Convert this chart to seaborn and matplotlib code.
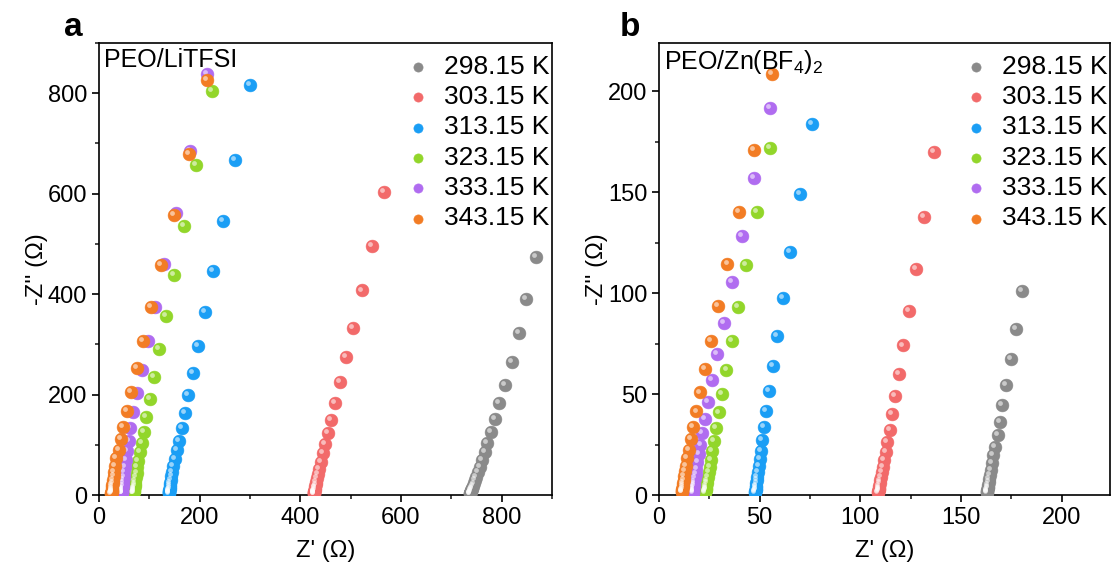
import numpy as np
import pandas as pd
import matplotlib
matplotlib.use("Agg")
import matplotlib.pyplot as plt
import matplotlib.transforms as mtransforms
from matplotlib.ticker import MultipleLocator
import seaborn as sns

# ---------------- data ----------------
temps = ["298.15 K", "303.15 K", "313.15 K", "323.15 K", "333.15 K", "343.15 K"]
colors = ["#8a8a8a", "#f26a6a", "#1a9ef5", "#92d62a", "#b06cf0", "#f27c24"]

# Panel a: PEO/LiTFSI
a_298_x = [868.7, 848.9, 833.6, 819.7, 806.4, 795.2, 787.3, 777.9, 771.4, 766.0, 760.7,
           756.2, 752.5, 749.5, 747.0, 745.0, 743.3, 741.9, 740.8, 739.8, 739.0, 738.3, 737.7, 737.2, 736.8, 736.5]
a_298_y = [473.5, 389.8, 322.1, 265.5, 219.7, 182.7, 152.0, 125.5, 104.2, 85.7, 69.7,
           56.0, 45.0, 36.0, 29.0, 23.0, 18.5, 14.8, 11.8, 9.4, 7.5, 6.0, 4.8, 3.8, 3.0, 2.4]
a_303_x = [565.4, 541.6, 521.8, 504.5, 490.2, 478.6, 468.7, 460.8, 454.2, 448.9, 444.9, 440.9, 437.0,
           434.7, 433.0, 431.6, 430.5, 429.6, 428.9, 428.3, 427.9, 427.5, 427.2, 427.0, 426.8, 426.6, 426.5]
a_303_y = [603.0, 495.4, 407.2, 333.3, 274.3, 224.5, 183.9, 150.0, 123.5, 101.0, 83.0, 66.3, 51.2,
           41.0, 33.0, 26.5, 21.0, 17.0, 13.5, 10.8, 8.6, 6.9, 5.5, 4.4, 3.5, 2.8, 2.2]
a_313_x = [300.7, 270.1, 245.7, 225.8, 209.9, 196.6, 186.7, 176.8, 170.2, 164.3, 158.9, 154.3, 151.0, 147.8,
           145.6, 144.0, 142.8, 141.9, 141.2, 140.6, 140.2, 139.9, 139.6, 139.4, 139.2, 139.1, 139.0, 138.9]
a_313_y = [816.7, 667.3, 545.8, 446.2, 364.5, 297.4, 243.0, 198.6, 162.7, 132.9, 108.2, 89.0, 71.7, 57.8,
           46.5, 37.3, 30.0, 24.0, 19.3, 15.5, 12.4, 10.0, 8.0, 6.4, 5.1, 4.1, 3.3, 2.6]
a_323_x = [224.4, 192.7, 168.8, 148.4, 132.5, 119.2, 108.6, 100.7, 94.1, 88.8, 84.8, 80.8, 78.3,
           76.3, 74.6, 73.3, 72.2, 71.4, 70.7, 70.1, 69.6, 69.2, 68.9, 68.7, 68.5, 68.3, 68.2]
a_323_y = [804.8, 657.4, 535.9, 437.3, 356.6, 290.2, 235.7, 191.8, 156.0, 126.1, 103.0, 85.1, 68.3,
           55.0, 44.0, 35.3, 28.3, 22.7, 18.2, 14.6, 11.7, 9.4, 7.5, 6.0, 4.8, 3.9, 3.1]
a_333_x = [214.5, 180.1, 152.3, 128.5, 111.2, 96.7, 85.4, 76.3, 68.3, 62.4, 59.0, 55.6, 53.0,
           51.2, 49.8, 48.8, 48.0, 47.4, 46.9, 46.5, 46.2, 45.9, 45.7, 45.5, 45.4, 45.3, 45.2]
a_333_y = [838.6, 685.9, 562.4, 459.2, 375.1, 306.8, 249.0, 203.8, 164.7, 134.1, 108.2, 88.4, 69.7,
           56.0, 45.0, 36.0, 29.0, 23.2, 18.6, 15.0, 12.0, 9.6, 7.7, 6.2, 5.0, 4.0, 3.2]
a_343_x = [215.3, 178.2, 148.4, 123.9, 104.1, 87.4, 74.9, 63.6, 55.6, 48.5, 43.1, 39.1, 34.6, 31.8,
           30.2, 29.0, 28.1, 27.3, 26.7, 26.2, 25.8, 25.5, 25.3, 25.1, 24.9, 24.8, 24.7, 24.6]
a_343_y = [826.7, 679.3, 557.8, 458.2, 375.1, 307.4, 252.4, 205.8, 167.3, 136.0, 111.6, 89.6, 73.1, 57.8,
           46.5, 37.3, 30.0, 24.0, 19.3, 15.5, 12.4, 10.0, 8.0, 6.4, 5.1, 4.1, 3.3, 2.6]

# Panel b: PEO/Zn(BF4)2
b_298_x = [180.1, 177.1, 174.6, 172.5, 170.5, 169.3, 168.2, 167.0, 166.0, 165.2,
           164.7, 164.3, 164.0, 163.7, 163.5, 163.3, 163.2, 163.1, 163.0, 162.9, 162.85, 162.8]
b_298_y = [101.1, 82.3, 67.2, 54.3, 44.5, 36.1, 29.6, 24.0, 19.7, 15.7,
           12.6, 10.1, 8.1, 6.5, 5.2, 4.2, 3.4, 2.7, 2.2, 1.7, 1.4, 1.1]
b_303_x = [136.5, 131.6, 127.5, 124.0, 121.3, 119.0, 117.4, 115.7, 114.5, 113.4, 112.6, 111.7,
           111.1, 110.6, 110.2, 109.9, 109.6, 109.4, 109.3, 109.2, 109.1, 109.0, 108.95, 108.9]
b_303_y = [170.2, 138.0, 112.2, 91.2, 74.1, 60.2, 49.3, 40.1, 32.4, 26.5, 21.4, 17.4,
           14.0, 11.2, 9.0, 7.2, 5.8, 4.6, 3.7, 3.0, 2.4, 1.9, 1.5, 1.2]
b_313_x = [76.0, 70.0, 65.2, 61.6, 58.6, 56.5, 54.6, 53.1, 52.0, 51.3, 50.6, 50.0,
           49.5, 49.1, 48.8, 48.6, 48.4, 48.25, 48.1, 48.0, 47.95, 47.9, 47.85, 47.8]
b_313_y = [183.7, 149.0, 120.6, 97.7, 78.9, 64.1, 51.6, 41.8, 33.8, 27.3, 22.0, 17.7,
           14.2, 11.4, 9.1, 7.3, 5.8, 4.7, 3.8, 3.0, 2.4, 1.9, 1.5, 1.2]
b_323_x = [55.3, 48.7, 43.4, 39.4, 36.2, 33.5, 31.5, 29.8, 28.5, 27.3, 26.3, 25.7,
           25.1, 24.6, 24.2, 23.9, 23.6, 23.4, 23.3, 23.2, 23.1, 23.0, 22.95, 22.9]
b_323_y = [172.1, 140.4, 114.2, 93.3, 76.1, 62.1, 50.1, 40.9, 33.4, 27.0, 22.0, 17.4,
           14.0, 11.2, 9.0, 7.2, 5.8, 4.6, 3.7, 3.0, 2.4, 1.9, 1.5, 1.2]
b_333_x = [55.1, 47.4, 41.1, 36.2, 32.1, 29.0, 26.5, 24.5, 23.0, 21.5, 20.6, 19.7, 19.1,
           18.6, 18.2, 17.9, 17.6, 17.4, 17.2, 17.05, 16.95, 16.85, 16.8, 16.75, 16.7]
b_333_y = [191.8, 156.9, 128.3, 105.8, 85.4, 69.7, 56.8, 46.3, 37.7, 30.8, 24.8, 20.4, 16.2,
           13.0, 10.4, 8.3, 6.7, 5.4, 4.3, 3.5, 2.8, 2.2, 1.8, 1.4, 1.1]
b_343_x = [56.1, 47.0, 39.7, 34.0, 29.3, 25.7, 22.7, 20.4, 18.6, 16.9, 15.7, 14.7, 13.9,
           13.4, 13.0, 12.6, 12.3, 12.1, 11.9, 11.75, 11.65, 11.55, 11.5, 11.45, 11.4]
b_343_y = [208.5, 171.0, 140.2, 114.5, 93.5, 76.5, 62.6, 50.8, 41.4, 33.9, 27.7, 22.3, 18.2,
           14.6, 11.7, 9.4, 7.5, 6.0, 4.8, 3.9, 3.1, 2.5, 2.0, 1.6, 1.3]

panel_a = [(a_298_x, a_298_y), (a_303_x, a_303_y), (a_313_x, a_313_y),
           (a_323_x, a_323_y), (a_333_x, a_333_y), (a_343_x, a_343_y)]
panel_b = [(b_298_x, b_298_y), (b_303_x, b_303_y), (b_313_x, b_313_y),
           (b_323_x, b_323_y), (b_333_x, b_333_y), (b_343_x, b_343_y)]

# ---------------- style ----------------
sns.set_theme(style="ticks")
plt.rcParams["font.family"] = ["Liberation Sans", "DejaVu Sans"]
plt.rcParams["mathtext.default"] = "regular"
plt.rcParams["axes.linewidth"] = 1.2
plt.rcParams["text.color"] = "black"
plt.rcParams["axes.labelcolor"] = "black"

FS = 17
FS_LEG = 19
fig = plt.figure(figsize=(11.13, 5.70), dpi=100)
W, H = 1113.0, 570.0
ax_a = fig.add_axes([99 / W, 75 / H, 453 / W, 452 / H])
ax_b = fig.add_axes([659 / W, 75 / H, 451 / W, 452 / H])


def draw_panel(ax, series, lim, major, minor, title):
    hl = mtransforms.offset_copy(ax.transData, fig=fig, x=-1.4, y=1.4, units="points")
    for (xs, ys), lab, col in zip(series, temps, colors):
        df = pd.DataFrame({"x": xs, "y": ys})
        sns.scatterplot(data=df, x="x", y="y", ax=ax, color=col, s=85,
                        linewidth=0.4, edgecolor=col, label=lab, zorder=3)
        ax.scatter(df["x"], df["y"], s=12, color="white", alpha=0.55,
                   linewidth=0, transform=hl, zorder=3)
    ax.set_xlim(0, lim)
    ax.set_ylim(0, lim)
    ax.xaxis.set_major_locator(MultipleLocator(major))
    ax.yaxis.set_major_locator(MultipleLocator(major))
    ax.xaxis.set_minor_locator(MultipleLocator(minor))
    ax.yaxis.set_minor_locator(MultipleLocator(minor))
    ax.tick_params(which="major", direction="out", length=5, width=1.2,
                   labelsize=FS, colors="black", top=False, right=False)
    ax.tick_params(which="minor", direction="out", length=3, width=1.2,
                   top=False, right=False)
    for sp in ax.spines.values():
        sp.set_visible(True)
        sp.set_color("black")
        sp.set_linewidth(1.2)
    ax.set_xlabel("Z' (\u03a9)", fontsize=FS, labelpad=8)
    ax.set_ylabel("-Z'' (\u03a9)", fontsize=FS, labelpad=0)
    ax.text(0.012, 0.99, title, transform=ax.transAxes, ha="left", va="top",
            fontsize=18, color="black")
    ax.legend(loc="upper right", bbox_to_anchor=(1.03, 1.009), frameon=False,
              fontsize=FS_LEG, markerscale=0.72, handlelength=1.0, handletextpad=0.5,
              labelspacing=0.24, borderaxespad=0.2)


draw_panel(ax_a, panel_a, 900, 200, 100, "PEO/LiTFSI")
draw_panel(ax_b, panel_b, 224, 50, 25, "PEO/Zn(BF$_4$)$_2$")

fig.text(73 / W, 1 - 28 / H, "a", fontsize=24, fontweight="bold", ha="center", va="center")
fig.text(630 / W, 1 - 28 / H, "b", fontsize=24, fontweight="bold", ha="center", va="center")

fig.savefig("out.png", dpi=100, facecolor="white")
